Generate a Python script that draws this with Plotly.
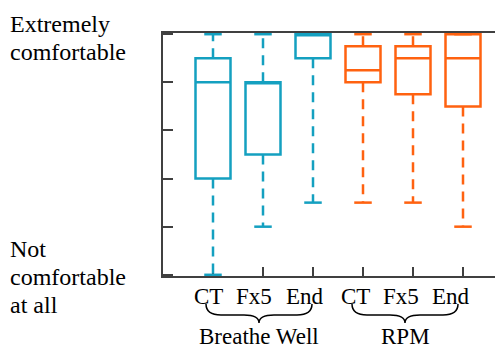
import plotly.graph_objects as go

# ---- data ----
categories = ["CT", "Fx5", "End", "CT", "Fx5", "End"]
groups = ["Breathe Well", "RPM"]
group_of = [0, 0, 0, 1, 1, 1]
q1 = [4, 5, 9, 8, 7.5, 7]
median = [8, 8, 10, 8.5, 9, 9]
q3 = [9, 8, 10, 9.5, 9.5, 10]
lower = [0, 2, 3, 3, 3, 2]
upper = [10, 10, 10, 10, 10, 10]
y_top_label = ["Extremely", "comfortable"]
y_bottom_label = ["Not", "comfortable", "at all"]

# ---- style ----
colors = ["#14A0C0", "#FF6210"]
W, H = 495, 349
ML, MT, MR, MB = 163, 33, 0, 73
XR = [0, 6.64]
YR = [-0.05, 10.05]
FONT = "Liberation Serif"
AX = "#404040"

positions = list(range(1, len(categories) + 1))
box_w = 0.7
cap_w = 0.35

fig = go.Figure()
for i, p in enumerate(positions):
    c = colors[group_of[i]]
    fig.add_trace(go.Box(
        x=[p], q1=[q1[i]], median=[median[i]], q3=[q3[i]],
        lowerfence=[q1[i]], upperfence=[q3[i]],
        width=box_w, whiskerwidth=0, boxpoints=False,
        line=dict(color=c, width=2.5), fillcolor="rgba(0,0,0,0)",
        showlegend=False, hoverinfo="skip"))
    fig.add_trace(go.Scatter(
        x=[p, p, None, p, p], y=[q1[i], lower[i], None, q3[i], upper[i]],
        mode="lines", line=dict(color=c, width=2.5, dash="10px,7px"),
        showlegend=False, hoverinfo="skip"))
    fig.add_trace(go.Scatter(
        x=[p - cap_w / 2, p + cap_w / 2, None, p - cap_w / 2, p + cap_w / 2],
        y=[lower[i], lower[i], None, upper[i], upper[i]],
        mode="lines", line=dict(color=c, width=2.5),
        showlegend=False, hoverinfo="skip"))

pw = W - ML - MR
ph = H - MT - MB


def pxx(px):
    return (px - ML) / pw


def pxy(py):
    return (H - MB - py) / ph


def dx_to_px(x):
    return ML + (x - XR[0]) / (XR[1] - XR[0]) * pw


annotations = []
# category labels
label_shift = [-0.1, -0.18, -0.16, -0.16, -0.24, -0.24]
for i, p in enumerate(positions):
    annotations.append(dict(
        x=p + label_shift[i], xref="x", y=pxy(296), yref="paper",
        text=categories[i], showarrow=False, xanchor="center", yanchor="middle",
        font=dict(family=FONT, size=23, color="black")))

# group braces + labels
shapes = []
brace_pad = [(-0.14, -0.02), (-0.22, -0.1)]
for g, name in enumerate(groups):
    members = [positions[i] for i in range(len(positions)) if group_of[i] == g]
    x0 = dx_to_px(min(members) + brace_pad[g][0])
    x1 = dx_to_px(max(members) + brace_pad[g][1])
    xc = (x0 + x1) / 2
    yt, ym, yb = 304, 315, 323
    r = 15
    path = (f"M {pxx(x0)},{pxy(yt)} Q {pxx(x0)},{pxy(ym)} {pxx(x0 + r)},{pxy(ym)} "
            f"L {pxx(xc - r)},{pxy(ym)} Q {pxx(xc)},{pxy(ym)} {pxx(xc)},{pxy(yb)} "
            f"Q {pxx(xc)},{pxy(ym)} {pxx(xc + r)},{pxy(ym)} "
            f"L {pxx(x1 - r)},{pxy(ym)} Q {pxx(x1)},{pxy(ym)} {pxx(x1)},{pxy(yt)}")
    shapes.append(dict(type="path", xref="paper", yref="paper", path=path,
                       line=dict(color="black", width=1.5)))
    annotations.append(dict(
        x=pxx(xc), xref="paper", y=pxy(336), yref="paper", text=name,
        showarrow=False, xanchor="center", yanchor="middle",
        font=dict(family=FONT, size=23, color="black")))

# y-axis end labels
for txt, py in zip(y_top_label, [23.6, 51.9]):
    annotations.append(dict(
        x=pxx(8), xref="paper", y=pxy(py), yref="paper", text=txt,
        showarrow=False, xanchor="left", yanchor="middle",
        font=dict(family=FONT, size=24, color="black")))
for txt, py in zip(y_bottom_label, [248.6, 276.9, 304.9]):
    annotations.append(dict(
        x=pxx(8), xref="paper", y=pxy(py), yref="paper", text=txt,
        showarrow=False, xanchor="left", yanchor="middle",
        font=dict(family=FONT, size=24, color="black")))

fig.update_layout(
    width=W, height=H,
    margin=dict(l=ML, r=MR, t=MT, b=MB, pad=0),
    paper_bgcolor="white", plot_bgcolor="white",
    showlegend=False,
    font=dict(family=FONT),
    annotations=annotations, shapes=shapes,
    xaxis=dict(range=XR, tickvals=positions, showticklabels=False,
               ticks="inside", ticklen=9, tickwidth=1.5, tickcolor=AX,
               showline=True, linecolor=AX, linewidth=1.5, mirror=True,
               showgrid=False, zeroline=False, layer="below traces", fixedrange=True),
    yaxis=dict(range=YR, tickvals=[0, 2, 4, 6, 8, 10], showticklabels=False,
               ticks="inside", ticklen=10, tickwidth=1.5, tickcolor=AX,
               showline=True, linecolor=AX, linewidth=1.5, mirror=False,
               showgrid=False, zeroline=False, layer="below traces", fixedrange=True),
)

fig.write_html("out.html", config={"displayModeBar": False},
               post_script="document.body.style.margin='0';document.body.style.overflow='hidden';")
